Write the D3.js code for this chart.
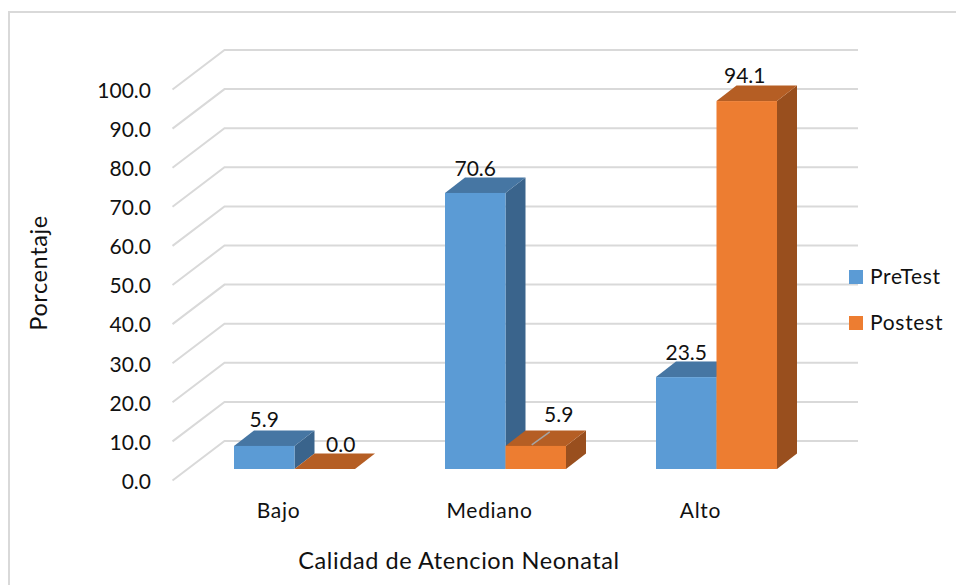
<!DOCTYPE html>
<html>
<head>
<meta charset="utf-8">
<script src="https://cdn.jsdelivr.net/npm/d3@7"></script>
<style>
html, body { margin: 0; padding: 0; background: #fff; }
svg { display: block; }
text { font-family: Lato, sans-serif; fill: #111; }
</style>
</head>
<body>
<svg id="chart" width="956" height="585"></svg>
<script>
// Survey results by care-quality level, percentage of respondents.
const categories = ["Bajo", "Mediano", "Alto"];
const seriesNames = ["PreTest", "Postest"];
const preTest = [5.9, 70.6, 23.5];
const postest = [0.0, 5.9, 94.1];
const tickValues = [0, 10, 20, 30, 40, 50, 60, 70, 80, 90, 100];
const axisTitleX = "Calidad de Atencion Neonatal";
const axisTitleY = "Porcentaje";

const frontColors = ["#5b9bd5", "#ed7d31"];
const topColors = ["#4676a3", "#b55e24"];
const sideColors = ["#3a648c", "#994f1e"];

const svg = d3.select("#chart");

// Outer chart frame, open past the right and bottom page edges
svg.append("rect")
  .attr("x", 9).attr("y", 12).attr("width", 960).attr("height", 600)
  .attr("fill", "#fff").attr("stroke", "#d9d9d9").attr("stroke-width", 2);

// Projection of the 3D box: walls are pushed back and up from the front plane
const depthX = 20, depthY = -15.5;
const wallX = 52, wallY = -39.5;

const y = d3.scaleLinear().domain([0, 100]).range([480.5, 89.5]);
const barBase = d => y(d) - 11.5;
const x0 = d3.scaleBand().domain(categories).range([173, 806]);
const barWidth = 60.5;
// Each pair sits slightly right of its band centre because of the depth offset
const barX = (cat, s) => x0(cat) + x0.bandwidth() / 2 + 16 - barWidth + s * barWidth;

// Wall gridlines: slanted floor segment plus the back-wall horizontal
const grid = svg.append("g").attr("fill", "none").attr("stroke", "#d9d9d9").attr("stroke-width", 2);
grid.selectAll("path").data(tickValues).join("path")
  .attr("d", d => d3.line()([
    [172.5, y(d)],
    [172.5 + wallX, y(d) + wallY],
    [858, y(d) + wallY]
  ]));

// Value-axis labels
svg.append("g").selectAll("text").data(tickValues).join("text")
  .attr("x", 151).attr("y", d => y(d) + 1).attr("dy", "0.35em")
  .attr("text-anchor", "end").attr("font-size", 21)
  .text(d => d.toFixed(1));

// Bars, drawn as side, top and front faces
const seriesData = [preTest, postest];
const bars = svg.append("g");
seriesData.forEach((vals, s) => {
  vals.forEach((v, i) => {
    const cat = categories[i];
    const l = barX(cat, s), r = l + barWidth;
    const b = barBase(0), t = barBase(v);
    const g = bars.append("g");
    g.append("path").attr("fill", sideColors[s])
      .attr("d", d3.line()([[r, b], [r + depthX, b + depthY], [r + depthX, t + depthY], [r, t]]) + "Z");
    g.append("path").attr("fill", topColors[s])
      .attr("d", d3.line()([[l, t], [l + depthX, t + depthY], [r + depthX, t + depthY], [r, t]]) + "Z");
    g.append("rect").attr("fill", frontColors[s])
      .attr("x", l).attr("y", t).attr("width", barWidth).attr("height", b - t);
  });
});

// Leader from the small Mediano/Postest label to its bar
const leaderX = barX("Mediano", 1) + barWidth / 2 - 4;
svg.append("path")
  .attr("fill", "none").attr("stroke", "#a5a5a5").attr("stroke-width", 1.5)
  .attr("d", d3.line()([
    [leaderX, barBase(postest[1]) - 1],
    [leaderX + 18, barBase(postest[1]) - 14]
  ]));

// Data labels; the short Postest bars have theirs pushed clear of the neighbouring bar
const labelShift = [
  [[0, -19], [0, -17], [0, -17]],
  [[16, -17], [23, -24], [-2, -18]]
];
seriesData.forEach((vals, s) => {
  svg.append("g").selectAll("text").data(vals).join("text")
    .attr("x", (v, i) => barX(categories[i], s) + barWidth / 2 + labelShift[s][i][0])
    .attr("y", (v, i) => barBase(v) + labelShift[s][i][1])
    .attr("text-anchor", "middle").attr("font-size", 21)
    .text(v => v.toFixed(1));
});

// Category labels
svg.append("g").selectAll("text").data(categories).join("text")
  .attr("x", c => x0(c) + x0.bandwidth() / 2)
  .attr("y", 518)
  .attr("text-anchor", "middle").attr("font-size", 21).attr("letter-spacing", 0.7)
  .text(c => c);

// Axis titles
svg.append("text")
  .attr("x", 459).attr("y", 569).attr("text-anchor", "middle").attr("font-size", 23.5)
  .attr("letter-spacing", 0.57)
  .text(axisTitleX);
svg.append("text")
  .attr("transform", "translate(47,273) rotate(-90)")
  .attr("text-anchor", "middle").attr("font-size", 23.5).attr("letter-spacing", 0.6)
  .text(axisTitleY);

// Legend
const legend = svg.append("g").selectAll("g").data(seriesNames).join("g")
  .attr("transform", (d, i) => `translate(849,${270 + i * 46})`);
legend.append("rect").attr("width", 14).attr("height", 14)
  .attr("fill", (d, i) => frontColors[i]);
legend.append("text").attr("x", 21).attr("y", 7).attr("dy", "0.35em")
  .attr("font-size", 21).attr("letter-spacing", 0.7).text(d => d);
</script>
</body>
</html>
